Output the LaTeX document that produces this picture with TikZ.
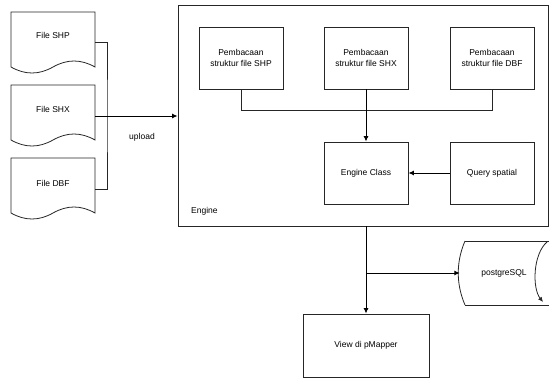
\documentclass[tikz,border=0pt]{standalone}
\usepackage{fontspec}
\setmainfont{Liberation Sans}
\usetikzlibrary{arrows.meta}
\begin{document}
\begin{tikzpicture}[x=1pt,y=-1pt,
  line/.style={draw=black!85, line width=0.8pt},
  arr/.style={draw=black, line width=1pt, -{Latex[length=5.5pt,width=5pt]}},
  box/.style={line, rectangle, minimum width=84pt, minimum height=62pt, inner sep=0pt, align=center, font=\fontsize{8.5}{11}\selectfont},
  lbl/.style={inner sep=0pt, font=\fontsize{8.5}{11}\selectfont, align=center},
  ghost/.style={rectangle, inner sep=0pt}
]
\useasboundingbox (0,0) rectangle (549,378);
\newcommand\mydocshape[1]{%
  \draw[line] (11,#1) -- (95,#1) -- (95,{#1+55})
    .. controls (81,{#1+47}) and (67,{#1+47}) .. (53,{#1+55})
    .. controls (39,{#1+63}) and (25,{#1+63}) .. (11,{#1+55}) -- cycle;}
% documents
\mydocshape{12}
\mydocshape{85}
\mydocshape{158}
\node[lbl] (shp) at (53,35) {File SHP};
\node[lbl] (shx) at (53,109) {File SHX};
\node[lbl] (dbf) at (53,183) {File DBF};
\coordinate (shpR) at (95,42);
\coordinate (shxR) at (95,116);
\coordinate (dbfR) at (95,189);
\coordinate (brk) at (107,116);
% engine container
\node[line, rectangle, minimum width=370pt, minimum height=221pt, inner sep=0pt] (engine) at (363,115.5) {};
\node[lbl, anchor=west] (englbl) at (191,211) {Engine};
% bracket and upload
\draw[line] (shpR) -| (brk) |- (dbfR);
\draw[arr] (shxR) -- (shxR -| engine.west);
\node[lbl] (upload) at (142,137) {upload};
% inner boxes
\node[box] (p1) at (241,58) {Pembacaan\\struktur file SHP};
\node[box] (p2) at (366,58) {Pembacaan\\struktur file SHX};
\node[box] (p3) at (492,58) {Pembacaan\\struktur file DBF};
\node[box] (ec) at (366,173) {Engine Class};
\node[box] (qs) at (492,173) {Query spatial};
\draw[line] (p1.south) -- ++(0,21) -| (p3.south);
\draw[arr] (p2.south) -- (ec.north);
\draw[arr] (qs.west) -- (ec.east);
% view
\node[box, minimum width=126pt, minimum height=63pt] (view) at (366,345.5) {View di pMapper};
\draw[arr] (view.north |- engine.south) -- (view.north);
% postgreSQL
\node[ghost, minimum width=88pt, minimum height=64pt] (pg) at (504,273) {};
\node[lbl] (pgt) at (504,273) {postgreSQL};
\draw[line] (465,241) -- (549,241);
\draw[line] (465,305) -- (549,305);
\draw[line] (465,241) .. controls (456,262) and (456,284) .. (465,305);
\draw[line, -{Latex[length=5pt,width=4.5pt]}] (547,242) .. controls (533,254) and (532,288) .. (543,302);
\draw[arr] (view.north |- pg.west) -- (pg.west);
\end{tikzpicture}
\end{document}
